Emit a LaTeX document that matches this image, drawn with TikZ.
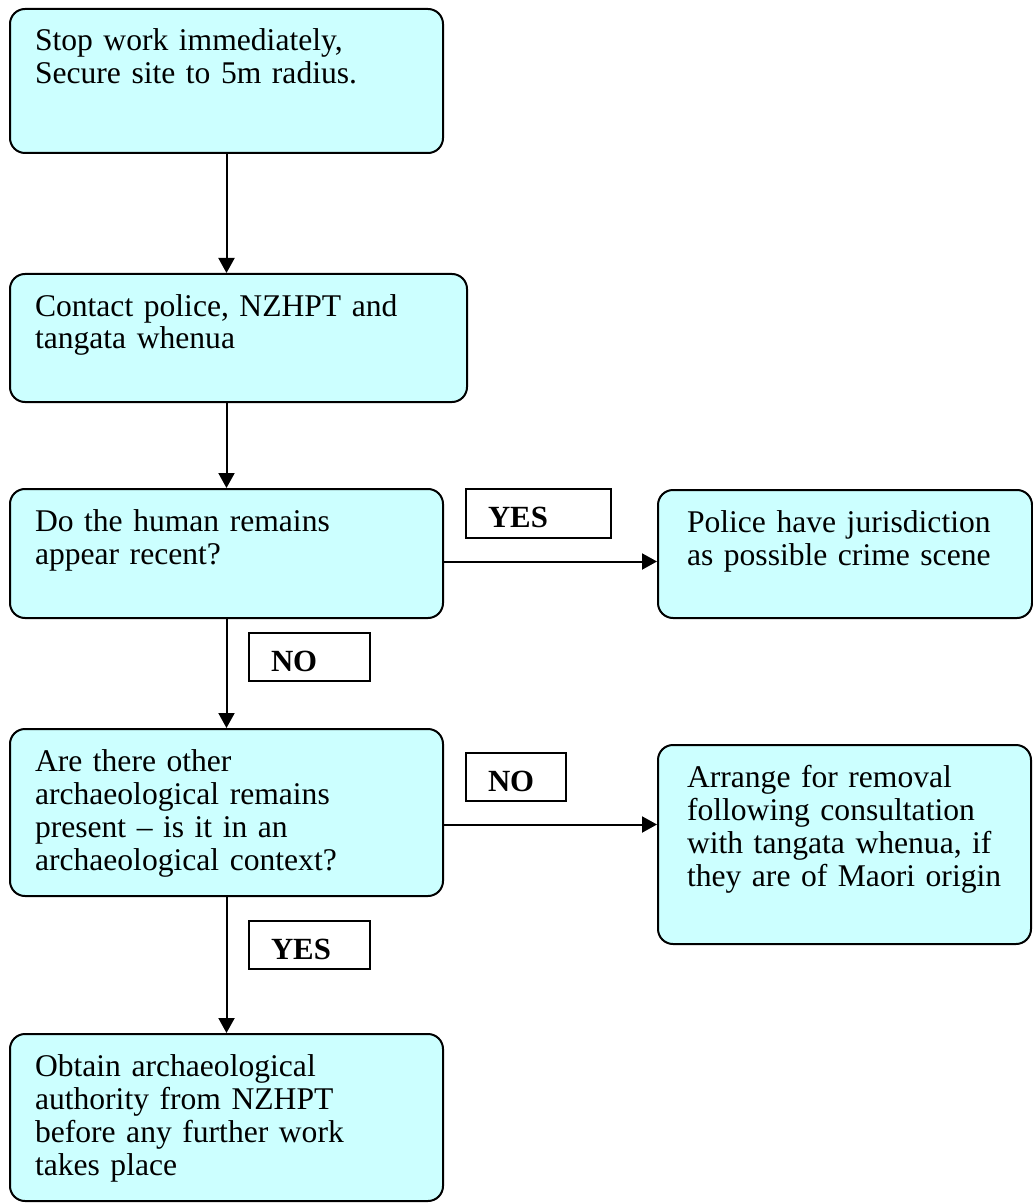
\documentclass[tikz,border=0pt]{standalone}
\usepackage{fontspec}
\setmainfont{Liberation Serif}
\usetikzlibrary{arrows.meta}
\definecolor{boxcyan}{HTML}{CCFFFF}

\begin{document}
\begin{tikzpicture}
            [x=0.5pt,y=-0.5pt,line width=1pt,
             every node/.style={anchor=north west,inner xsep=12.5pt,inner ysep=0pt,align=left,font=\fontsize{15.8pt}{16.5pt}\selectfont},
             flowbox/.style={draw,fill=boxcyan,rounded corners=7.5pt,text height=21pt},
             answer/.style={draw,fill=white,inner xsep=11pt,text height=19pt,font=\fontsize{15.4pt}{16.5pt}\selectfont\bfseries},
             flow/.style={-{Triangle[length=7.5pt,width=8pt]}}]
            \useasboundingbox (0,0) rectangle (1032,1203);
            \node[flowbox,text width=191.5pt,text depth=51pt] (stop) at (9,8) {Stop work immediately,\\Secure site to 5m radius.};
            \node[flowbox,text width=203.5pt,text depth=43pt] (contact) at (9,273) {Contact police, NZHPT and\\tangata whenua};
            \node[flowbox,text width=191.5pt,text depth=43.5pt] (recent) at (9,488) {Do the human remains\\appear recent?};
            \node[flowbox,inner xsep=14.5pt,text width=158pt,text depth=43pt] (police) at (657,489) {Police have jurisdiction\\as possible crime scene};
            \node[flowbox,text width=191.5pt,text depth=62.5pt] (others) at (9,728) {Are there other\\archaeological remains\\present -- is it in an\\archaeological context?};
            \node[flowbox,inner xsep=14.5pt,text width=157.5pt,text depth=78.5pt] (removal) at (657,744) {Arrange for removal\\following consultation\\with tangata whenua, if\\they are of Maori origin};
            \node[flowbox,text width=191.5pt,text depth=62.5pt] (authority) at (9,1033) {Obtain archaeological\\authority from NZHPT\\before any further work\\takes place};
            %
            \node[answer,text width=50.5pt,text depth=5.5pt] (yesrecent) at (465,488) {YES};
            \node[answer,text width=38.5pt,text depth=5pt] (norecent) at (248,632) {NO};
            \node[answer,text width=28pt,text depth=5pt] (noothers) at (465,752) {NO};
            \node[answer,text width=38.5pt,text depth=5pt] (yesothers) at (248,920) {YES};
            %
            \draw[flow] (stop) -- (contact.north -| stop.south);
            \draw[flow] (recent.north |- contact.south) -- (recent);
            \draw[flow] ([yshift=-4pt]recent.east) -- ([yshift=-4pt]recent.east -| police.west);
            \draw[flow] (recent) -- (others);
            \draw[flow] ([yshift=-6pt]others.east) -- ([yshift=-6pt]others.east -| removal.west);
            \draw[flow] (others) -- (authority);
        \end{tikzpicture}
\end{document}
